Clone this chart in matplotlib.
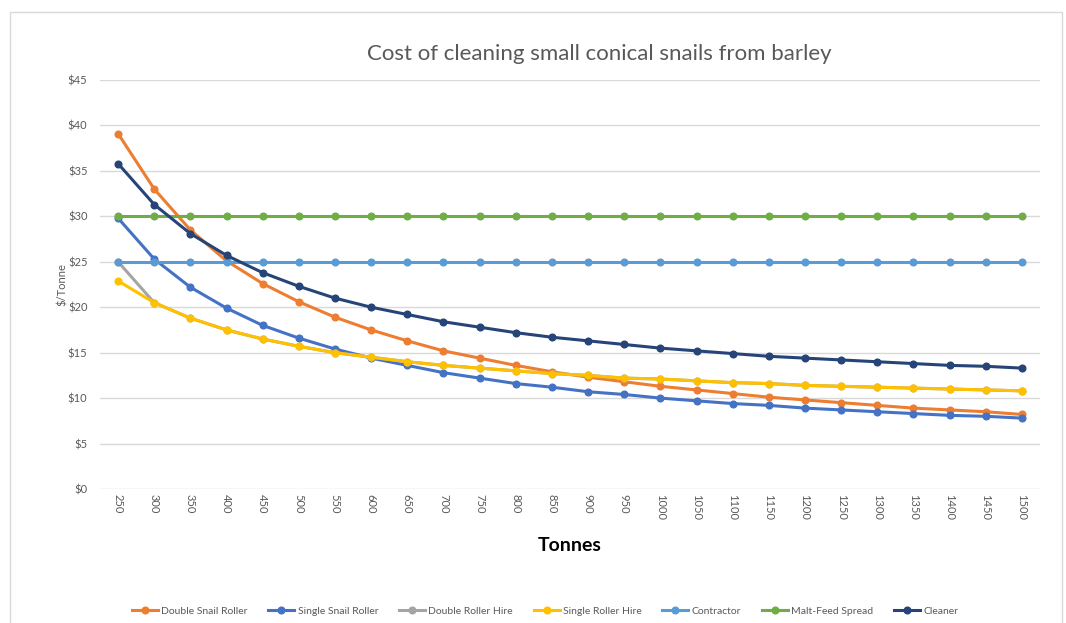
import matplotlib.pyplot as plt
from matplotlib.patches import Rectangle
from matplotlib.ticker import FuncFormatter

tonnes = [250, 300, 350, 400, 450, 500, 550, 600, 650, 700, 750, 800, 850,
          900, 950, 1000, 1050, 1100, 1150, 1200, 1250, 1300, 1350, 1400, 1450, 1500]

double_snail_roller = [39.1, 33.0, 28.5, 25.1, 22.6, 20.6, 18.9, 17.5, 16.3, 15.2, 14.4, 13.6, 12.9,
                       12.3, 11.8, 11.3, 10.9, 10.5, 10.1, 9.8, 9.5, 9.2, 8.9, 8.7, 8.5, 8.2]
single_snail_roller = [29.8, 25.3, 22.2, 19.9, 18.0, 16.6, 15.4, 14.4, 13.6, 12.8, 12.2, 11.6, 11.2,
                       10.7, 10.4, 10.0, 9.7, 9.4, 9.2, 8.9, 8.7, 8.5, 8.3, 8.1, 8.0, 7.8]
double_roller_hire = [25.0, 20.5, 18.8, 17.5, 16.5, 15.7, 15.0, 14.5, 14.0, 13.6, 13.3, 13.0, 12.7,
                      12.5, 12.2, 12.1, 11.9, 11.7, 11.6, 11.4, 11.3, 11.2, 11.1, 11.0, 10.9, 10.8]
single_roller_hire = [22.9, 20.5, 18.8, 17.5, 16.5, 15.7, 15.0, 14.5, 14.0, 13.6, 13.3, 13.0, 12.7,
                      12.5, 12.2, 12.1, 11.9, 11.7, 11.6, 11.4, 11.3, 11.2, 11.1, 11.0, 10.9, 10.8]
contractor = [25.0] * 26
malt_feed_spread = [30.0] * 26
cleaner = [35.8, 31.3, 28.1, 25.7, 23.8, 22.3, 21.0, 20.0, 19.2, 18.4, 17.8, 17.2, 16.7,
           16.3, 15.9, 15.5, 15.2, 14.9, 14.6, 14.4, 14.2, 14.0, 13.8, 13.6, 13.5, 13.3]

series = [
    ("Double Snail Roller", double_snail_roller, "#ED7D31"),
    ("Single Snail Roller", single_snail_roller, "#4472C4"),
    ("Double Roller Hire", double_roller_hire, "#A5A5A5"),
    ("Single Roller Hire", single_roller_hire, "#FFC000"),
    ("Contractor", contractor, "#5B9BD5"),
    ("Malt-Feed Spread", malt_feed_spread, "#70AD47"),
    ("Cleaner", cleaner, "#264478"),
]

plt.rcParams['font.family'] = ['Lato', 'DejaVu Sans']

fig = plt.figure(figsize=(10.66, 6.23), dpi=100)
# light frame around the whole chart
fig.patches.append(Rectangle((10 / 1066, -0.01), 1052 / 1066, 1 - 12 / 623 + 0.01,
                             transform=fig.transFigure, fill=False,
                             edgecolor="#d9d9d9", linewidth=1))

ax = fig.add_axes([100 / 1066, 1 - 489 / 623, 940 / 1066, 409 / 623])
x = list(range(len(tonnes)))
for name, vals, col in series:
    ax.plot(x, vals, color=col, linewidth=2.2, marker="o", markersize=4.8, label=name)

ax.set_xlim(-0.5, len(tonnes) - 0.5)
ax.set_ylim(0, 45)
ax.set_yticks(range(0, 50, 5))
ax.yaxis.set_major_formatter(FuncFormatter(lambda v, p: f"${int(v)}"))
ax.set_xticks(x)
ax.set_xticklabels([str(t) for t in tonnes], rotation=270)
ax.tick_params(axis="both", length=0, labelsize=8, colors="#595959")
ax.tick_params(axis="y", pad=9)
ax.grid(axis="y", color="#d9d9d9", linewidth=1)
ax.set_axisbelow(True)
for s in ax.spines.values():
    s.set_visible(False)

fig.text(599 / 1066, 1 - 54 / 623, "Cost of cleaning small conical snails from barley",
         fontsize=16, color="#595959", ha="center", va="center")
ax.set_xlabel("Tonnes", fontsize=14, fontweight="bold", color="black", labelpad=12)
ax.set_ylabel("$/Tonne", fontsize=8, color="#595959", labelpad=0)

ax.legend(loc="center", bbox_to_anchor=(545 / 1066, 1 - 611 / 623), bbox_transform=fig.transFigure,
          ncol=7, frameon=False, fontsize=7.5, handlelength=2.5, handletextpad=0.3,
          columnspacing=2.0, labelcolor="#595959")

fig.savefig("out.png", dpi=100)
